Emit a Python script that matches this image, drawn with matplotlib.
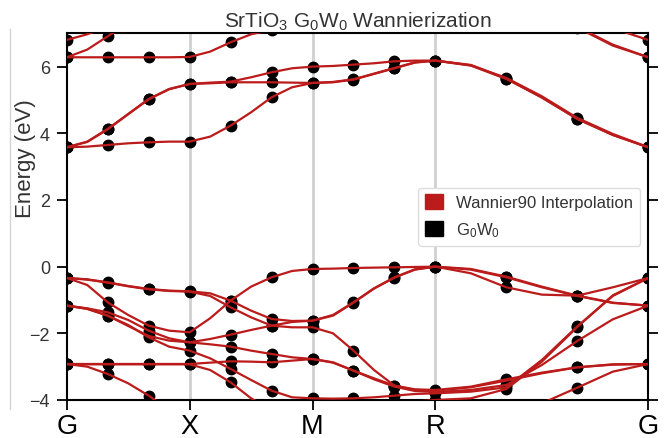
import numpy as np
import matplotlib
matplotlib.use("Agg")
import matplotlib.pyplot as plt
from matplotlib.patches import Patch
from matplotlib.lines import Line2D

plt.rcParams["font.family"] = ["Liberation Sans", "DejaVu Sans"]
plt.rcParams["mathtext.fontset"] = "custom"
plt.rcParams["mathtext.rm"] = "Liberation Sans"
plt.rcParams["mathtext.it"] = "Liberation Sans:italic"

# k-path: G-X-M-R-G, sampled every 1/12 of each segment (GW points at every 2nd sample)
seg_lengths = [0.5, 0.5, 0.5, np.sqrt(3) / 2]
n_sub = 6
tick_labels = ["G", "X", "M", "R", "G"]

# Wannier bands (eV), 25 samples each along the path
cond_1 = [3.58, 3.60, 3.65, 3.70, 3.73, 3.75, 3.75,
          3.90, 4.23, 4.63, 5.08, 5.38, 5.51,
          5.53, 5.61, 5.78, 5.95, 6.12, 6.18,
          6.03, 5.63, 5.08, 4.43, 3.95, 3.58]
cond_2 = [3.58, 3.75, 4.13, 4.58, 5.03, 5.33, 5.48,
          5.50, 5.53, 5.53, 5.53, 5.52, 5.51,
          5.54, 5.62, 5.79, 5.96, 6.13, 6.18,
          6.04, 5.66, 5.11, 4.46, 3.98, 3.58]
cond_3 = [3.58, 3.74, 4.12, 4.57, 5.02, 5.32, 5.48,
          5.52, 5.55, 5.68, 5.83, 5.95, 6.00,
          6.02, 6.06, 6.10, 6.16, 6.18, 6.18,
          6.05, 5.64, 5.07, 4.43, 3.95, 3.58]
eg_1 = [6.28, 6.28, 6.28, 6.28, 6.28, 6.28, 6.29,
        6.45, 6.73, 6.97, 7.10, 7.20, 7.30,
        7.35, 7.40, 7.50, 7.60, 7.65, 7.70,
        7.68, 7.60, 7.35, 7.17, 6.63, 6.28]
eg_2 = [6.28, 6.51, 6.91, 7.30, 7.60, 7.80, 7.90,
        7.95, 8.00, 8.00, 8.00, 8.00, 8.00,
        7.95, 7.90, 7.85, 7.80, 7.75, 7.72,
        7.70, 7.62, 7.38, 7.19, 6.66, 6.28]
top_1 = [6.80, 6.97, 7.20, 7.50, 7.70, 7.80, 7.85,
         7.90, 8.00, 8.10, 8.20, 8.20, 8.20,
         8.20, 8.20, 8.10, 8.00, 7.95, 7.90,
         7.90, 7.85, 7.75, 7.60, 7.15, 6.80]

val_a = [-0.34, -0.38, -0.47, -0.58, -0.67, -0.72, -0.74,
         -0.80, -1.02, -1.32, -1.57, -1.63, -1.62,
         -1.45, -1.07, -0.65, -0.32, -0.08, 0.00,
         -0.07, -0.30, -0.60, -0.87, -1.08, -1.17]
val_b = [-0.34, -0.39, -0.48, -0.59, -0.68, -0.73, -0.75,
         -0.88, -1.22, -1.52, -1.77, -1.82, -1.82,
         -2.00, -2.52, -3.10, -3.57, -3.70, -3.72,
         -3.62, -3.42, -3.20, -3.02, -2.94, -2.92]
val_c = [-0.34, -0.55, -1.07, -1.45, -1.77, -1.92, -1.97,
         -1.55, -1.02, -0.60, -0.32, -0.13, -0.07,
         -0.06, -0.04, -0.03, -0.02, -0.01, 0.00,
         -0.20, -0.62, -0.84, -0.87, -0.62, -0.34]
val_d = [-1.17, -1.25, -1.37, -1.60, -1.92, -2.15, -2.27,
         -2.17, -2.04, -1.90, -1.77, -1.66, -1.62,
         -1.47, -1.08, -0.66, -0.33, -0.09, 0.00,
         -0.09, -0.32, -0.62, -0.88, -1.09, -1.17]
val_e = [-1.17, -1.27, -1.47, -1.75, -2.12, -2.40, -2.52,
         -2.75, -3.07, -3.40, -3.72, -3.92, -3.95,
         -3.96, -3.95, -3.92, -3.87, -3.82, -3.80,
         -3.75, -3.62, -2.80, -1.79, -0.88, -0.34]
val_f = [-1.17, -1.26, -1.47, -1.78, -2.08, -2.22, -2.27,
         -2.33, -2.40, -2.52, -2.62, -2.72, -2.77,
         -2.88, -3.12, -3.35, -3.57, -3.68, -3.70,
         -3.60, -3.38, -3.18, -3.02, -2.93, -2.92]
val_g = [-2.92, -2.92, -2.92, -2.92, -2.92, -2.92, -2.92,
         -2.88, -2.84, -2.85, -2.87, -2.82, -2.77,
         -2.87, -3.12, -3.38, -3.60, -3.73, -3.76,
         -3.70, -3.55, -2.95, -2.23, -1.58, -1.17]
val_h = [-2.93, -2.93, -2.93, -2.93, -2.93, -2.93, -2.93,
         -3.10, -3.47, -3.95, -4.30, -4.50, -4.60,
         -4.55, -4.45, -4.30, -4.15, -4.05, -4.00,
         -3.95, -3.67, -2.85, -1.81, -0.86, -0.34]
val_i = [-2.92, -3.00, -3.22, -3.50, -3.87, -4.30, -4.60,
         -4.70, -4.80, -4.85, -4.90, -4.90, -4.90,
         -4.90, -4.90, -4.90, -4.85, -4.80, -4.80,
         -4.70, -4.50, -4.10, -3.63, -3.15, -2.92]

bands = [cond_1, cond_2, cond_3, eg_1, eg_2, top_1,
         val_a, val_b, val_c, val_d, val_e, val_f, val_g, val_h, val_i]

# path coordinates
k = np.cumsum([0.0] + [L / n_sub for L in seg_lengths for _ in range(n_sub)])
k_ticks = np.cumsum([0.0] + seg_lengths)

red = "#bb1b1b"

fig = plt.figure(figsize=(6.7, 4.39), dpi=100)
ax = fig.add_axes([0.0996, 0.0866, 0.868, 0.8353])

for x in k_ticks[1:-1]:
    ax.axvline(x, color="#d0d0d0", lw=2, zorder=1)

# GW points (every second sample), then the interpolated bands on top
for b in bands:
    b = np.array(b)
    ax.plot(k[::2], b[::2], "o", color="black", ms=7.5, zorder=2)
for b in bands:
    ax.plot(k, b, color=red, lw=1.6, zorder=3)

ax.set_xlim(k_ticks[0], k_ticks[-1])
ax.set_ylim(-4, 7)
ax.set_xticks(k_ticks)
ax.set_xticklabels(tick_labels, fontsize=19.5, color="black")
ax.set_yticks([-4, -2, 0, 2, 4, 6])
ax.tick_params(axis="y", labelsize=13, labelcolor="#333333", direction="out",
               length=7.5, width=1.3, right=True, left=True, pad=4.5)
ax.tick_params(axis="x", direction="out", length=7, width=1.3, pad=2.5)
for s in ax.spines.values():
    s.set_linewidth(1.5)
    s.set_color("black")

ax.set_ylabel("Energy (eV)", fontsize=16, color="#333333")
ax.yaxis.set_label_coords(-0.053, 0.66)
ax.set_title("SrTiO$_3$ G$_0$W$_0$ Wannierization", fontsize=15, color="#333333", pad=5)

handles = [Patch(facecolor=red, edgecolor=red), Patch(facecolor="black", edgecolor="black")]
leg = ax.legend(handles, ["Wannier90 Interpolation", "G$_0$W$_0$"], loc="center right",
                fontsize=12, handlelength=1.08, handleheight=1.0, labelspacing=0.6,
                frameon=True, edgecolor="#dddddd", framealpha=1)
for t in leg.get_texts():
    t.set_color("#333333")

fig.add_artist(Line2D([0.0149, 0.0149], [0.932, 0.066], color="#d5d5d5", lw=1))

fig.savefig("out.png", dpi=100)
